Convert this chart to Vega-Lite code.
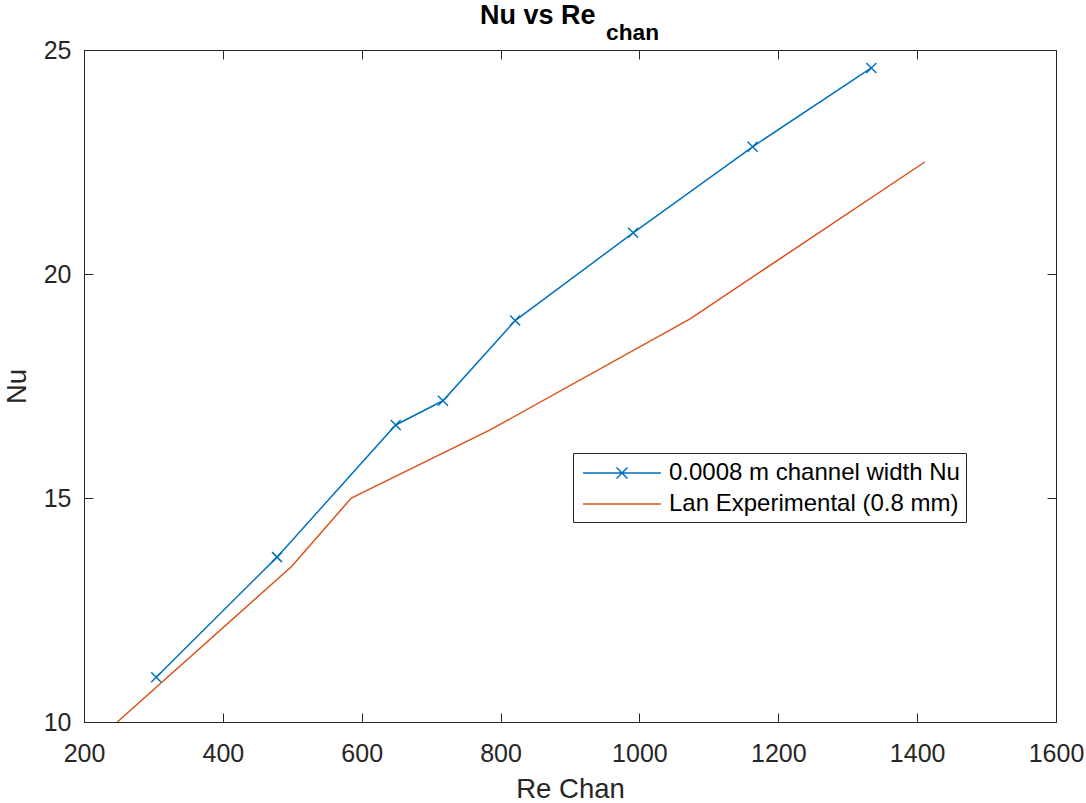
{
  "$schema": "https://vega.github.io/schema/vega-lite/v6.json",
  "width": 972,
  "height": 672,
  "autosize": {"type": "none"},
  "padding": {"left": 84, "top": 50, "right": 30, "bottom": 81},
  "background": "white",
  "title": {
    "text": "Nu vs Re",
    "subtitle": "\u200b\u00a0\u00a0\u00a0\u00a0\u00a0\u00a0\u00a0\u00a0\u00a0\u00a0\u00a0\u00a0\u00a0\u00a0\u00a0\u00a0\u00a0\u00a0\u00a0\u00a0chan",
    "anchor": "middle",
    "align": "left",
    "dx": -90,
    "dy": 14,
    "font": "Liberation Sans",
    "fontSize": 27,
    "fontWeight": "bold",
    "color": "#000000",
    "subtitleFont": "Liberation Sans",
    "subtitleFontSize": 22.7,
    "subtitleFontWeight": "bold",
    "subtitleColor": "#000000",
    "subtitlePadding": -8,
    "offset": 6
  },
  "config": {
    "view": {"stroke": "#262626", "strokeWidth": 1},
    "axis": {
      "domainColor": "#262626",
      "tickColor": "#262626",
      "labelColor": "#262626",
      "titleColor": "#262626",
      "labelFont": "Liberation Sans",
      "labelFontSize": 25,
      "titleFont": "Liberation Sans",
      "titleFontSize": 27.5,
      "titleFontWeight": "normal",
      "tickSize": -9,
      "tickWidth": 1,
      "domainWidth": 1,
      "grid": false,
      "labelFlush": false,
      "labelOverlap": false
    }
  },
  "datasets": {
    "nu": [
      {"series": "0.0008 m channel width Nu", "Re": 304, "Nu": 11.0},
      {"series": "0.0008 m channel width Nu", "Re": 478, "Nu": 13.68},
      {"series": "0.0008 m channel width Nu", "Re": 649, "Nu": 16.63},
      {"series": "0.0008 m channel width Nu", "Re": 717, "Nu": 17.17},
      {"series": "0.0008 m channel width Nu", "Re": 821, "Nu": 18.96},
      {"series": "0.0008 m channel width Nu", "Re": 991, "Nu": 20.92},
      {"series": "0.0008 m channel width Nu", "Re": 1163, "Nu": 22.84},
      {"series": "0.0008 m channel width Nu", "Re": 1334, "Nu": 24.6},
      {"series": "Lan Experimental (0.8 mm)", "Re": 248, "Nu": 10.0},
      {"series": "Lan Experimental (0.8 mm)", "Re": 499, "Nu": 13.47},
      {"series": "Lan Experimental (0.8 mm)", "Re": 585, "Nu": 15.0},
      {"series": "Lan Experimental (0.8 mm)", "Re": 785, "Nu": 16.52},
      {"series": "Lan Experimental (0.8 mm)", "Re": 1073, "Nu": 19.0},
      {"series": "Lan Experimental (0.8 mm)", "Re": 1411, "Nu": 22.5}
    ]
  },
  "data": {"name": "nu"},
  "layer": [
    {
      "mark": {"type": "line", "strokeWidth": 1.5},
      "encoding": {
        "x": {
          "field": "Re", "type": "quantitative",
          "scale": {"domain": [200, 1600], "nice": false, "zero": false},
          "axis": {"orient": "bottom", "title": "Re Chan", "format": "d", "values": [200, 400, 600, 800, 1000, 1200, 1400, 1600], "labelPadding": 28, "titlePadding": 9}
        },
        "y": {
          "field": "Nu", "type": "quantitative",
          "scale": {"domain": [10, 25], "nice": false, "zero": false},
          "axis": {"orient": "left", "title": "Nu", "format": "d", "values": [10, 15, 20, 25], "labelPadding": 22, "titlePadding": 12}
        },
        "color": {
          "field": "series", "type": "nominal",
          "scale": {"domain": ["0.0008 m channel width Nu", "Lan Experimental (0.8 mm)"], "range": ["#0072BD", "#D95319"]},
          "legend": {
            "orient": "none",
            "legendX": 489,
            "legendY": 403,
            "title": null,
            "padding": 6,
            "strokeColor": "#262626",
            "fillColor": "white",
            "labelFont": "Liberation Sans",
            "labelFontSize": 24,
            "labelColor": "#000000",
            "labelLimit": 400,
            "symbolSize": 676,
            "symbolStrokeWidth": 1.5,
            "symbolOffset": 29,
            "labelOffset": 33,
            "rowPadding": 5,
            "encode": {
              "symbols": {
                "update": {
                  "shape": {"signal": "datum.value === 'Lan Experimental (0.8 mm)' ? 'M-3,0H3' : 'M-3,0H3M-0.42,-0.42L0.42,0.42M-0.42,0.42L0.42,-0.42'"}
                }
              }
            }
          }
        }
      }
    },
    {
      "transform": [{"filter": "datum.series === '0.0008 m channel width Nu'"}],
      "mark": {"type": "point", "shape": "M-1,-1L1,1M-1,1L1,-1", "size": 100, "filled": false, "strokeWidth": 1.5, "opacity": 1},
      "encoding": {
        "x": {
          "field": "Re", "type": "quantitative",
          "axis": {"orient": "top", "title": null, "labels": false, "domain": false, "values": [200, 400, 600, 800, 1000, 1200, 1400, 1600]}
        },
        "y": {
          "field": "Nu", "type": "quantitative",
          "axis": {"orient": "right", "title": null, "labels": false, "domain": false, "values": [10, 15, 20, 25]}
        },
        "color": {"field": "series", "type": "nominal"}
      }
    }
  ],
  "resolve": {"axis": {"x": "independent", "y": "independent"}}
}
